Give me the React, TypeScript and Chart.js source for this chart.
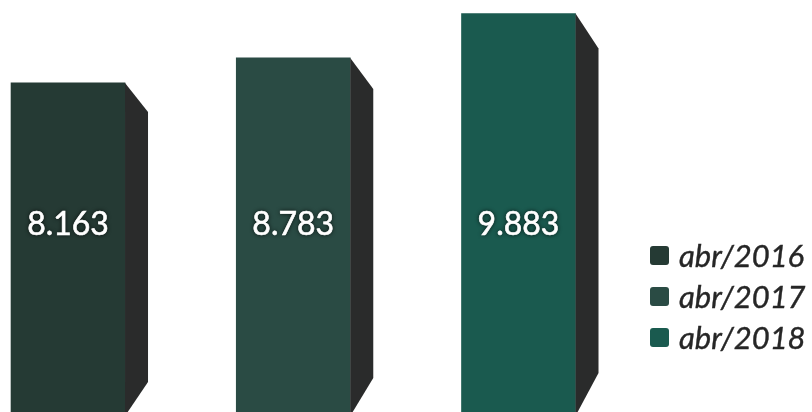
import React, { useEffect, useRef } from "react";
import { Chart, registerables } from "chart.js";

Chart.register(...registerables);

const seriesLabels = ["abr/2016", "abr/2017", "abr/2018"];
const seriesValues = [8163, 8783, 9883];
const valueLabels = ["8.163", "8.783", "9.883"];
const seriesColors = ["#253a34", "#2a4b44", "#1a5a4f"];
const sideColor = "#2a2b2b";
const topBevel = [29, 31, 35];
const bottomBevel = [30, 34, 39];

const sidePlugin = {
  id: "side3d",
  afterDatasetsDraw(chart: any) {
    const ctx = chart.ctx;
    const area = chart.chartArea;
    chart.data.datasets.forEach((_ds: any, di: number) => {
      const meta = chart.getDatasetMeta(di);
      meta.data.forEach((el: any) => {
        const { x, y, base, width } = el.getProps(["x", "y", "base", "width"], true);
        const R = x + width / 2;
        const d = 23;
        ctx.save();
        ctx.fillStyle = sideColor;
        ctx.beginPath();
        ctx.moveTo(R, y);
        ctx.lineTo(R + d, y + topBevel[di]);
        ctx.lineTo(R + d, base - bottomBevel[di]);
        ctx.lineTo(R, base + 4);
        ctx.closePath();
        ctx.fill();
        ctx.restore();
        // value label
        ctx.save();
        ctx.font = "32px Lato";
        ctx.fillStyle = "#ffffff";
        ctx.textAlign = "center";
        ctx.textBaseline = "middle";
        ctx.shadowColor = "rgba(0,0,0,0.9)";
        ctx.shadowBlur = 4;
        const ly = area.top + (area.bottom - area.top) * 0.545;
        ctx.fillText(valueLabels[di], x, ly);
        ctx.lineWidth = 0.6;
        ctx.strokeStyle = "#ffffff";
        ctx.shadowBlur = 0;
        ctx.strokeText(valueLabels[di], x, ly);
        ctx.restore();
      });
    });
  },
};

export default function App() {
  const ref = useRef<HTMLCanvasElement>(null);
  useEffect(() => {
    document.body.style.margin = "0";
    const chart = new Chart(ref.current as HTMLCanvasElement, {
      type: "bar",
      data: {
        datasets: seriesLabels.map((label, i) => ({
          label,
          data: [{ x: i, y: seriesValues[i] }],
          backgroundColor: seriesColors[i],
          barThickness: 114,
          grouped: false,
        })),
      },
      options: {
        animation: false,
        responsive: false,
        layout: { padding: 0 },
        plugins: { legend: { display: false }, tooltip: { enabled: false } },
        scales: {
          x: { type: "linear", display: false, offset: false, min: -0.302, max: 3.303 },
          y: { display: false, min: 0, max: 10220 },
        },
      },
      plugins: [sidePlugin],
    } as any);
    return () => chart.destroy();
  }, []);
  return (
    <div style={{ position: "relative", width: 812, height: 412, background: "#fff" }}>
      <canvas ref={ref} width={812} height={412} style={{ display: "block" }} />
      <div style={{ position: "absolute", left: 650, top: 235 }}>
        {seriesLabels.map((l, i) => (
          <div key={l} style={{ display: "flex", alignItems: "center", height: 41 }}>
            <div
              style={{
                width: 19,
                height: 19,
                borderRadius: 3,
                background: seriesColors[i],
                marginRight: 10,
              }}
            />
            <span
              style={{
                fontFamily: "Lato",
                fontStyle: "italic",
                fontSize: 31,
                color: "#262626",
                lineHeight: "41px",
                WebkitTextStroke: "0.4px #262626",
              }}
            >
              {l}
            </span>
          </div>
        ))}
      </div>
    </div>
  );
}
